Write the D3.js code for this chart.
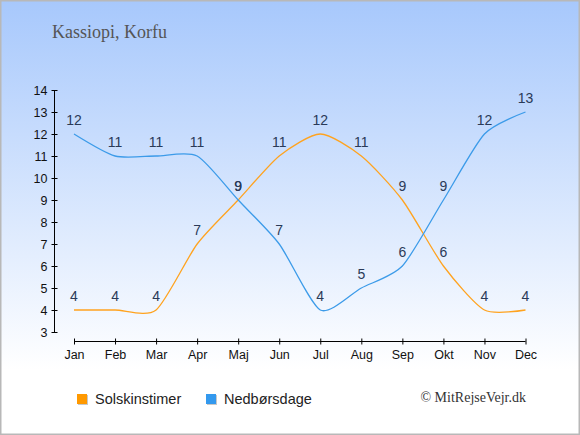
<!DOCTYPE html>
<html><head><meta charset="utf-8">
<script src="https://cdn.jsdelivr.net/npm/d3@7"></script>
<style>html,body{margin:0;padding:0;background:#fff;overflow:hidden}</style>
</head><body>
<svg id="c" width="580" height="435"></svg>
<script>
const months = ["Jan","Feb","Mar","Apr","Maj","Jun","Jul","Aug","Sep","Okt","Nov","Dec"];
const sunHours = [4,4,4,7,9,11,12,11,9,6,4,4];
const rainDays = [12,11,11,11,9,7,4,5,6,9,12,13];
const yTicks = [3,4,5,6,7,8,9,10,11,12,13,14];
const seriesNames = ["Solskinstimer","Nedbørsdage"];
const seriesColors = ["#ffa31f","#3c9be9"];
const legendColors = ["#ff9900","#3399ee"];
const title = "Kassiopi, Korfu";
const credit = "© MitRejseVejr.dk";

const svg = d3.select("#c");
const defs = svg.append("defs");
const g = defs.append("linearGradient").attr("id","bg").attr("x1",0).attr("y1",0).attr("x2",0).attr("y2",1);
g.append("stop").attr("offset","0%").attr("stop-color","#a7c8fc");
g.append("stop").attr("offset","85%").attr("stop-color","#ffffff");
g.append("stop").attr("offset","100%").attr("stop-color","#ffffff");
svg.append("rect").attr("x",0).attr("y",0).attr("width",580).attr("height",435).attr("fill","url(#bg)");
svg.append("rect").attr("x",0.75).attr("y",0.75).attr("width",578.5).attr("height",433.5)
  .attr("fill","none").attr("stroke","#b8b8b8").attr("stroke-width",1.5);

svg.append("text").attr("x",52).attr("y",38).text(title)
  .attr("font-family","'Liberation Serif','DejaVu Serif',serif").attr("font-size",18).attr("fill","#555");

const x = d3.scalePoint().domain(months).range([74,525.5]);
const y = d3.scaleLinear().domain([3,14]).range([332,90]);

// y axis
const ya = svg.append("g").attr("transform","translate(54.5,0)")
  .call(d3.axisLeft(y).tickValues(yTicks).tickSize(3).tickPadding(4).tickFormat(d3.format("d")));
ya.selectAll(".tick line").attr("x2",3).attr("x1",-3);
ya.select(".domain").attr("d",`M0,${y(14)}V${y(3)}`);
// x axis
const xa = svg.append("g").attr("transform","translate(0,341.5)")
  .call(d3.axisBottom(x).tickSize(3).tickPadding(6));
xa.selectAll(".tick line").attr("y1",-3).attr("y2",3);
xa.select(".domain").attr("d",`M${x("Jan")},0H${x("Dec")}`);
[ya,xa].forEach(a=>{
  a.selectAll("text").attr("font-family","'Liberation Sans',Arial,sans-serif").attr("font-size",12.5).attr("fill","#111");
  a.selectAll("line,path").attr("stroke","#000").attr("stroke-width",1);
});

const line = d3.line().x((d,i)=>x(months[i])).y(d=>y(d)).curve(d3.curveCardinal.tension(0.3));
[sunHours, rainDays].forEach((s,k)=>{
  svg.append("path").datum(s).attr("d",line).attr("fill","none")
    .attr("stroke",seriesColors[k]).attr("stroke-width",1.3);
});
[sunHours, rainDays].forEach((s,k)=>{
  svg.append("g").selectAll("text").data(s).join("text")
    .attr("x",(d,i)=>x(months[i])).attr("y",d=>y(d)-9)
    .attr("text-anchor","middle").attr("font-family","'Liberation Sans',Arial,sans-serif")
    .attr("font-size",14).attr("fill","#2a3a58").text(d=>d);
});

// legend
const lx = [77, 206];
seriesNames.forEach((n,k)=>{
  svg.append("rect").attr("x",lx[k]+1).attr("y",395).attr("width",10).attr("height",10).attr("fill","#c8c8c8");
  svg.append("rect").attr("x",lx[k]).attr("y",394).attr("width",10).attr("height",10).attr("fill",legendColors[k]);
  svg.append("text").attr("x",lx[k]+18).attr("y",403.5).text(n)
    .attr("font-family","'Liberation Sans',Arial,sans-serif").attr("font-size",14.5).attr("fill","#222");
});
svg.append("text").attr("x",526).attr("y",402).attr("text-anchor","end").text(credit)
  .attr("font-family","'Liberation Serif','DejaVu Serif',serif").attr("font-size",14).attr("fill","#333");
</script>
</body></html>
